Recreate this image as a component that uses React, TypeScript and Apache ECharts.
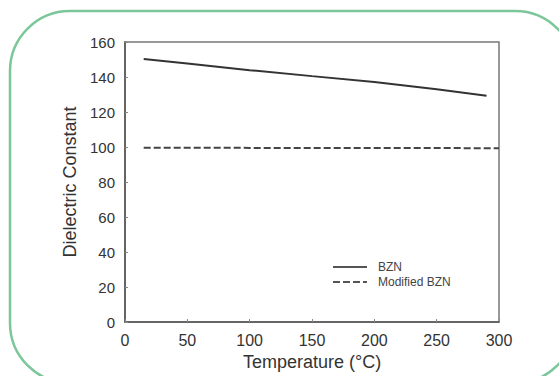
import React, { useEffect, useRef } from "react";
import * as echarts from "echarts";

const bznTemps = [15, 50, 100, 150, 200, 250, 290];
const bznValues = [150.3, 147.7, 143.9, 140.5, 137.2, 133.0, 129.3];
const modTemps = [15, 50, 100, 150, 200, 250, 300];
const modValues = [99.6, 99.6, 99.5, 99.5, 99.4, 99.4, 99.3];
const seriesNames = ["BZN", "Modified BZN"];
const xTitle = "Temperature (°C)";
const yTitle = "Dielectric Constant";

export default function App() {
  const ref = useRef<HTMLDivElement>(null);
  useEffect(() => {
    if (!ref.current) return;
    const chart = echarts.init(ref.current, null, { renderer: "svg" });
    const font = "Liberation Sans, Arial, sans-serif";
    chart.setOption({
      animation: false,
      backgroundColor: "#ffffff",
      grid: {
        left: 125,
        top: 42,
        right: 60,
        bottom: 54,
        show: true,
        borderColor: "#777777",
        borderWidth: 1.5,
      },
      legend: {
        orient: "vertical",
        left: 327,
        top: 256,
        itemWidth: 34,
        itemHeight: 10,
        itemGap: 3,
        data: seriesNames,
        itemStyle: { opacity: 0 },
        lineStyle: { width: 2, color: "#555" },
        textStyle: {
          fontFamily: font,
          fontSize: 12,
          color: "#444",
          padding: [0, 0, 0, 6],
        },
      },
      xAxis: {
        type: "value",
        min: 0,
        max: 300,
        interval: 50,
        name: xTitle,
        nameLocation: "middle",
        nameGap: 29,
        nameTextStyle: { fontFamily: font, fontSize: 18, color: "#333" },
        axisLine: { show: true, lineStyle: { color: "#555", width: 1.5 } },
        axisTick: { show: true, inside: true, length: 3, lineStyle: { color: "#888" } },
        axisLabel: { fontFamily: font, fontSize: 16, color: "#333", margin: 10 },
        splitLine: { show: false },
      },
      yAxis: {
        type: "value",
        min: 0,
        max: 160,
        interval: 20,
        name: yTitle,
        nameLocation: "middle",
        nameGap: 39,
        nameTextStyle: { fontFamily: font, fontSize: 18, color: "#333" },
        axisLine: { show: true, lineStyle: { color: "#555", width: 1.5 } },
        axisTick: { show: true, inside: true, length: 3, lineStyle: { color: "#888" } },
        axisLabel: { fontFamily: font, fontSize: 15, color: "#333", margin: 10 },
        splitLine: { show: false },
      },
      series: [
        {
          name: seriesNames[0],
          type: "line",
          symbol: "none",
          data: bznTemps.map((t, i) => [t, bznValues[i]]),
          lineStyle: { color: "#333", width: 2 },
          itemStyle: { color: "#333" },
        },
        {
          name: seriesNames[1],
          type: "line",
          symbol: "none",
          data: modTemps.map((t, i) => [t, modValues[i]]),
          lineStyle: { color: "#444", width: 2, type: [7, 3] },
          itemStyle: { color: "#444" },
        },
      ],
      graphic: [
        {
          type: "rect",
          shape: { x: 10, y: 11, width: 565, height: 372, r: 60 },
          style: { fill: "none", stroke: "#7cc79a", lineWidth: 2.5 },
          silent: true,
        },
      ],
    });
    return () => chart.dispose();
  }, []);
  return (
    <div
      ref={ref}
      style={{ position: "absolute", left: 0, top: 0, width: 559, height: 376 }}
    />
  );
}
